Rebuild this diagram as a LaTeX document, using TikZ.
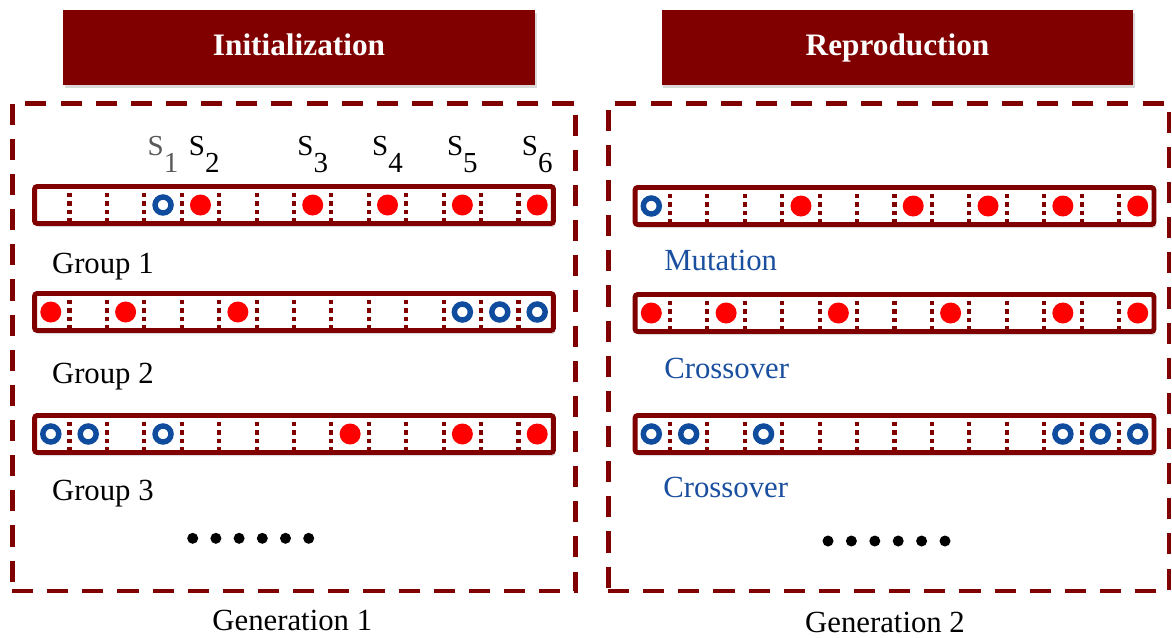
\documentclass[tikz,border=0pt]{standalone}
\usepackage{fontspec}
\setmainfont{Liberation Serif}
\usetikzlibrary{calc,shadows}
\definecolor{wine}{HTML}{800000}
\definecolor{genered}{HTML}{FF0000}
\definecolor{geneblue}{HTML}{104C9E}
\definecolor{opblue}{HTML}{1A4F9F}
\newcommand\lowdigit[1]{\raisebox{-0.6em}{#1}}

\begin{document}
\begin{tikzpicture}[x=0.02cm,y=-0.02cm,
 header/.style={fill=wine,text=white,font=\fontsize{17.8}{20}\selectfont\bfseries,
   minimum width=9.44cm,minimum height=1.5cm,inner sep=0pt,text height=12.5pt,text depth=3.5pt,
   drop shadow={shadow xshift=1pt,shadow yshift=-1.5pt,opacity=0.3}},
 stage/.style={draw=wine,line width=2.8pt,dash pattern=on 12pt off 8pt,inner sep=0pt},
 chrom/.style={draw=wine,fill=white,line width=2.8pt,rounded corners=1.5pt,
   minimum width=10.38cm,minimum height=0.74cm,inner sep=0pt,
   drop shadow={shadow xshift=1pt,shadow yshift=-2pt,opacity=0.3}},
 cut/.style={draw=wine,line width=2.3pt,dash pattern=on 2.6pt off 2.3pt},
 redgene/.style={circle,fill=genered,minimum size=0.42cm,inner sep=0pt},
 bluegene/.style={circle,draw=geneblue,fill=white,line width=3.1pt,minimum size=0.32cm,inner sep=0pt},
 txt/.style={font=\fontsize{17.5}{20}\selectfont,inner sep=0pt},
 grouplabel/.style={txt,anchor=base west},
 oplabel/.style={txt,text=opblue,anchor=base west},
 slabel/.style={font=\fontsize{16.5}{18}\selectfont,inner sep=0pt,anchor=base},
 dot/.style={circle,fill=black,minimum size=0.22cm,inner sep=0pt}]
\useasboundingbox (0,0) rectangle (1172,637);
\node[header] (init) at (299,47.5) {Initialization};
\node[header] (repro) at (897.5,47.5) {Reproduction};
\node[stage,minimum width=11.28cm,minimum height=9.76cm] (gen1box) at (294,347) {};
\node[stage,minimum width=11.22cm,minimum height=9.76cm] (gen2box) at (888.5,347) {};
\node[chrom] (L1) at (294,205) {};
\node[chrom] (L2) at (294,312) {};
\node[chrom] (L3) at (294,434) {};
\node[chrom] (R1) at (894.5,206) {};
\node[chrom] (R2) at (894.5,313) {};
\node[chrom] (R3) at (894.5,434) {};
\foreach \b in {L1,L2,L3,R1,R2,R3}
  \foreach \k in {1,...,13}
    \draw[cut] ($(\b.north west)!{\k/14}!(\b.north east)$) -- ($(\b.south west)!{\k/14}!(\b.south east)$);
\foreach \b/\k in {L1/4,L1/7,L1/9,L1/11,L1/13,L2/0,L2/2,L2/5,L3/8,L3/11,L3/13,
                   R1/4,R1/7,R1/9,R1/11,R1/13,R2/0,R2/2,R2/5,R2/8,R2/11,R2/13}
  \node[redgene] (\b-\k) at ($(\b.west)!{(\k+0.5)/14}!(\b.east)$) {};
\foreach \b/\k in {L1/3,L2/11,L2/12,L2/13,L3/0,L3/1,L3/3,
                   R1/0,R3/0,R3/1,R3/3,R3/11,R3/12,R3/13}
  \node[bluegene] (\b-\k) at ($(\b.west)!{(\k+0.5)/14}!(\b.east)$) {};
\node[slabel,text=black!65] (s1) at ($(L1.north west)!{3.5/14}!(L1.north east)+(0,-28.5)$) {S\lowdigit{1}};
\node[slabel] (s2) at ($(L1.north west)!{4.6/14}!(L1.north east)+(0,-28.5)$) {S\lowdigit{2}};
\node[slabel] (s3) at ($(L1.north west)!{7.5/14}!(L1.north east)+(0,-28.5)$) {S\lowdigit{3}};
\node[slabel] (s4) at ($(L1.north west)!{9.5/14}!(L1.north east)+(0,-28.5)$) {S\lowdigit{4}};
\node[slabel] (s5) at ($(L1.north west)!{11.5/14}!(L1.north east)+(0,-28.5)$) {S\lowdigit{5}};
\node[slabel] (s6) at ($(L1.north west)!{13.5/14}!(L1.north east)+(0,-28.5)$) {S\lowdigit{6}};
\node[grouplabel] (grp1) at (51.7,273) {Group 1};
\node[grouplabel] (grp2) at (51.7,383) {Group 2};
\node[grouplabel] (grp3) at (51.7,500) {Group 3};
\node[oplabel] (mut) at (664,270) {Mutation};
\node[oplabel] (cross1) at (664,378) {Crossover};
\node[oplabel] (cross2) at (663,497) {Crossover};
\foreach \i in {0,...,5} {
  \node[dot] (ldot\i) at (192.7+23.2*\i,538.3) {};
  \node[dot] (rdot\i) at (828+23.4*\i,541) {};
}
\node[txt,anchor=base] (gen1) at (292.3,630) {Generation 1};
\node[txt,anchor=base] (gen2) at (885,632) {Generation 2};
\end{tikzpicture}
\end{document}
